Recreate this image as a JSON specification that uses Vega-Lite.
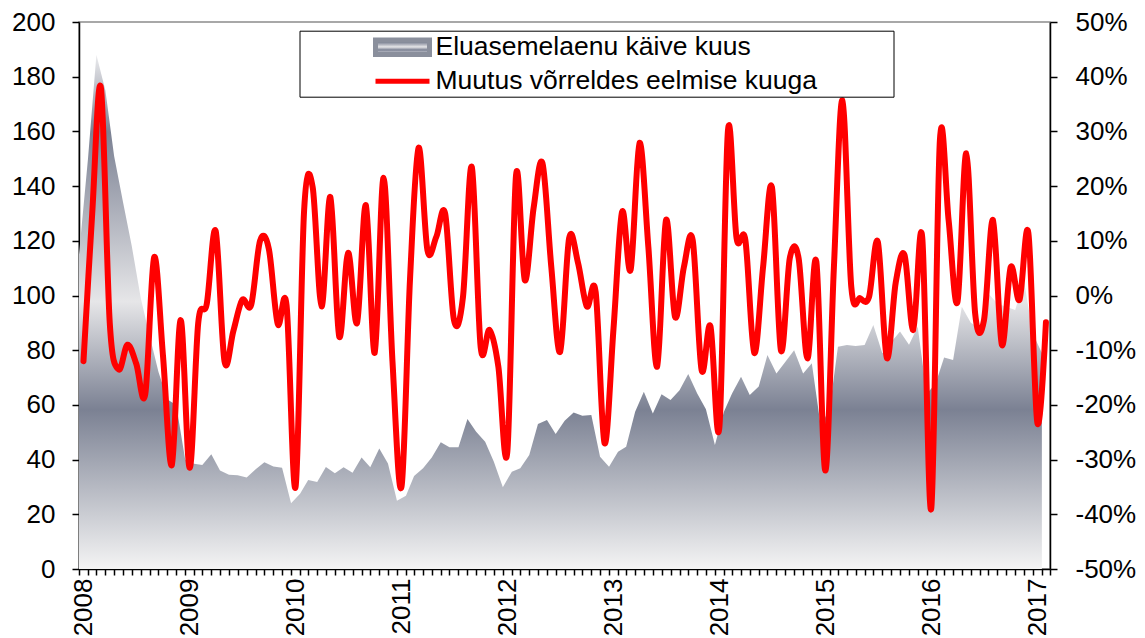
{
  "$schema": "https://vega.github.io/schema/vega-lite/v6.json",
  "width": 971,
  "height": 547,
  "autosize": "none",
  "padding": {"left": 79, "top": 22, "right": 95, "bottom": 69},
  "background": "white",
  "config": {
    "view": {"stroke": "#8c8c8c", "strokeWidth": 1.5},
    "font": "Liberation Sans",
    "axis": {"labelFont": "Liberation Sans", "labelColor": "#000000", "labelFontSize": 26, "domainColor": "#000000", "domainWidth": 1.5, "tickColor": "#000000", "tickWidth": 1.5, "grid": false, "title": null}
  },
  "data": {"values": [
    {"m": "2008-01", "loan": 115, "chg": -12},
    {"m": "2008-02", "loan": 150, "chg": 15},
    {"m": "2008-03", "loan": 188, "chg": 38},
    {"m": "2008-04", "loan": 175, "chg": -5},
    {"m": "2008-05", "loan": 151, "chg": -13.5},
    {"m": "2008-06", "loan": 134, "chg": -9},
    {"m": "2008-07", "loan": 118, "chg": -12.5},
    {"m": "2008-08", "loan": 99, "chg": -18},
    {"m": "2008-09", "loan": 85, "chg": 7},
    {"m": "2008-10", "loan": 72, "chg": -11},
    {"m": "2008-11", "loan": 62, "chg": -31},
    {"m": "2008-12", "loan": 60, "chg": -4.5},
    {"m": "2009-01", "loan": 40, "chg": -31.5},
    {"m": "2009-02", "loan": 38.5, "chg": -5},
    {"m": "2009-03", "loan": 38, "chg": -1.5},
    {"m": "2009-04", "loan": 42, "chg": 11.8},
    {"m": "2009-05", "loan": 36, "chg": -12},
    {"m": "2009-06", "loan": 34.5, "chg": -6.5},
    {"m": "2009-07", "loan": 34.3, "chg": -0.8},
    {"m": "2009-08", "loan": 33.5, "chg": -1.7},
    {"m": "2009-09", "loan": 36.5, "chg": 10},
    {"m": "2009-10", "loan": 39, "chg": 8.5},
    {"m": "2009-11", "loan": 37.5, "chg": -5.2},
    {"m": "2009-12", "loan": 37, "chg": -1.8},
    {"m": "2010-01", "loan": 24, "chg": -35},
    {"m": "2010-02", "loan": 27.5, "chg": 15.6},
    {"m": "2010-03", "loan": 32.5, "chg": 19.8},
    {"m": "2010-04", "loan": 31.8, "chg": -2},
    {"m": "2010-05", "loan": 37.3, "chg": 18},
    {"m": "2010-06", "loan": 35, "chg": -7.5},
    {"m": "2010-07", "loan": 37.2, "chg": 7.8},
    {"m": "2010-08", "loan": 35.2, "chg": -5},
    {"m": "2010-09", "loan": 40.8, "chg": 16.5},
    {"m": "2010-10", "loan": 37.2, "chg": -10.5},
    {"m": "2010-11", "loan": 44.1, "chg": 21.5},
    {"m": "2010-12", "loan": 38.6, "chg": -12},
    {"m": "2011-01", "loan": 25, "chg": -35},
    {"m": "2011-02", "loan": 26.8, "chg": 3},
    {"m": "2011-03", "loan": 34, "chg": 27},
    {"m": "2011-04", "loan": 36.8, "chg": 8.3},
    {"m": "2011-05", "loan": 40.8, "chg": 10.7},
    {"m": "2011-06", "loan": 46.3, "chg": 15},
    {"m": "2011-07", "loan": 44.5, "chg": -4.5},
    {"m": "2011-08", "loan": 44.5, "chg": -0.3},
    {"m": "2011-09", "loan": 54.8, "chg": 23.5},
    {"m": "2011-10", "loan": 50.2, "chg": -9.4},
    {"m": "2011-11", "loan": 46.5, "chg": -6.3},
    {"m": "2011-12", "loan": 39.2, "chg": -13},
    {"m": "2012-01", "loan": 29.9, "chg": -28.5},
    {"m": "2012-02", "loan": 35.6, "chg": 22},
    {"m": "2012-03", "loan": 36.8, "chg": 2.8},
    {"m": "2012-04", "loan": 41.7, "chg": 16},
    {"m": "2012-05", "loan": 53, "chg": 24.2},
    {"m": "2012-06", "loan": 54.5, "chg": 5.2},
    {"m": "2012-07", "loan": 49.4, "chg": -10.3},
    {"m": "2012-08", "loan": 54.2, "chg": 10.5},
    {"m": "2012-09", "loan": 57.2, "chg": 6},
    {"m": "2012-10", "loan": 56, "chg": -2},
    {"m": "2012-11", "loan": 56.3, "chg": 0.6},
    {"m": "2012-12", "loan": 41, "chg": -27},
    {"m": "2013-01", "loan": 37.4, "chg": -6},
    {"m": "2013-02", "loan": 42.9, "chg": 15.3},
    {"m": "2013-03", "loan": 44.7, "chg": 4.7},
    {"m": "2013-04", "loan": 57.5, "chg": 27.9},
    {"m": "2013-05", "loan": 64.8, "chg": 8.9},
    {"m": "2013-06", "loan": 56.9, "chg": -13},
    {"m": "2013-07", "loan": 63.9, "chg": 13.8},
    {"m": "2013-08", "loan": 61.8, "chg": -3.9},
    {"m": "2013-09", "loan": 65.4, "chg": 5.2},
    {"m": "2013-10", "loan": 71.3, "chg": 10.1},
    {"m": "2013-11", "loan": 64.2, "chg": -13.6},
    {"m": "2013-12", "loan": 58.4, "chg": -5.6},
    {"m": "2014-01", "loan": 45.3, "chg": -24},
    {"m": "2014-02", "loan": 57.5, "chg": 30.2},
    {"m": "2014-03", "loan": 64.2, "chg": 10.5},
    {"m": "2014-04", "loan": 70.3, "chg": 10.1},
    {"m": "2014-05", "loan": 63.6, "chg": -10.5},
    {"m": "2014-06", "loan": 66.7, "chg": 5.2},
    {"m": "2014-07", "loan": 78.2, "chg": 19.8},
    {"m": "2014-08", "loan": 71.5, "chg": -10},
    {"m": "2014-09", "loan": 75.8, "chg": 6.8},
    {"m": "2014-10", "loan": 80, "chg": 6.8},
    {"m": "2014-11", "loan": 71.5, "chg": -11.5},
    {"m": "2014-12", "loan": 75.2, "chg": 6.2},
    {"m": "2015-01", "loan": 52, "chg": -32},
    {"m": "2015-02", "loan": 59, "chg": 5},
    {"m": "2015-03", "loan": 81.3, "chg": 35.7},
    {"m": "2015-04", "loan": 81.9, "chg": 1.6},
    {"m": "2015-05", "loan": 81.5, "chg": -0.5},
    {"m": "2015-06", "loan": 81.9, "chg": -0.3},
    {"m": "2015-07", "loan": 89.2, "chg": 9.8},
    {"m": "2015-08", "loan": 78.9, "chg": -11.4},
    {"m": "2015-09", "loan": 83, "chg": 2.3},
    {"m": "2015-10", "loan": 86.8, "chg": 7.4},
    {"m": "2015-11", "loan": 82, "chg": -6.3},
    {"m": "2015-12", "loan": 88.6, "chg": 10.7},
    {"m": "2016-01", "loan": 64, "chg": -39},
    {"m": "2016-02", "loan": 67.9, "chg": 28.4},
    {"m": "2016-03", "loan": 77.3, "chg": 13.8},
    {"m": "2016-04", "loan": 76.4, "chg": -1.2},
    {"m": "2016-05", "loan": 95.9, "chg": 26},
    {"m": "2016-06", "loan": 90, "chg": -3.3},
    {"m": "2016-07", "loan": 88, "chg": -4.5},
    {"m": "2016-08", "loan": 100.6, "chg": 13.8},
    {"m": "2016-09", "loan": 97, "chg": -9},
    {"m": "2016-10", "loan": 95.9, "chg": 5.2},
    {"m": "2016-11", "loan": 94.7, "chg": -0.8},
    {"m": "2016-12", "loan": 105.5, "chg": 11.4},
    {"m": "2017-01", "loan": 86, "chg": -23.3},
    {"m": "2017-02", "loan": 79, "chg": -4.9}
  ]},
  "encoding": {
    "x": {
      "field": "m",
      "timeUnit": "utcyearmonth",
      "type": "temporal",
      "bandPosition": 0.5,
      "scale": {"domain": [{"year": 2008, "month": 1, "date": 1, "utc": true}, {"year": 2017, "month": 3, "date": 1, "utc": true}]},
      "axis": {
        "orient": "bottom",
        "tickCount": {"interval": "month", "step": 1},
        "labelExpr": "utcFormat(datum.value, '%m') == '01' ? utcFormat(datum.value, '%Y') : ''",
        "labelAngle": 270,
        "labelAlign": "right",
        "labelBaseline": "middle",
        "labelOffset": 4.4,
        "labelOverlap": false,
        "labelFlush": false,
        "labelBound": false,
        "tickSize": 6,
        "labelPadding": 3,
        "encode": {"ticks": {"update": {"y": {"value": -6}}}}
      }
    }
  },
  "layer": [
    {
      "mark": {
        "type": "area",
        "interpolate": "linear",
        "color": {
          "gradient": "linear",
          "x1": 0, "y1": 0, "x2": 0, "y2": 1,
          "stops": [
            {"offset": 0, "color": "#ececee"},
            {"offset": 0.15, "color": "#7b8193"},
            {"offset": 0.48, "color": "#e6e6e8"},
            {"offset": 0.69, "color": "#7b8193"},
            {"offset": 1, "color": "#f4f4f4"}
          ]
        }
      },
      "encoding": {
        "y": {
          "field": "loan",
          "type": "quantitative",
          "scale": {"domain": [0, 200], "nice": false, "zero": true},
          "axis": {
            "orient": "left",
            "values": [0, 20, 40, 60, 80, 100, 120, 140, 160, 180, 200],
            "tickSize": 7,
            "labelPadding": 17,
            "encode": {"ticks": {"update": {"x": {"value": 7}}}}
          }
        }
      }
    },
    {
      "mark": {"type": "line", "interpolate": "cardinal", "strokeWidth": 6, "strokeJoin": "round", "strokeCap": "round"},
      "encoding": {
        "y": {
          "field": "chg",
          "type": "quantitative",
          "scale": {"domain": [-50, 50], "nice": false, "zero": false},
          "axis": {
            "orient": "right",
            "values": [-50, -40, -30, -20, -10, 0, 10, 20, 30, 40, 50],
            "labelExpr": "datum.value + '%'",
            "tickSize": 7,
            "labelPadding": 18,
            "encode": {"ticks": {"update": {"x": {"value": -7}}}}
          }
        },
        "color": {
          "datum": "Muutus võrreldes eelmise kuuga",
          "type": "nominal",
          "scale": {"domain": ["Eluasemelaenu käive kuus", "Muutus võrreldes eelmise kuuga"], "range": ["#8a8f9c", "#ff0000"]},
          "legend": {
            "orient": "none",
            "legendX": 220.5,
            "legendY": 8.7,
            "direction": "vertical",
            "title": null,
            "padding": 2,
            "strokeColor": "#000000",
            "fillColor": "#ffffff",
            "labelFont": "Liberation Sans",
            "labelFontSize": 26.5,
            "labelColor": "#000000",
            "labelLimit": 1000,
            "symbolSize": 576,
            "symbolOffset": 86.5,
            "labelOffset": 18.5,
            "rowPadding": 2,
            "symbolStrokeWidth": 5,
            "labelExpr": "datum.label == 'Muutus võrreldes eelmise kuuga' ? datum.label + '\u00a0\u00a0\u00a0\u00a0\u00a0\u00a0\u00a0\u00a0\u00a0\u00a0\u200b' : datum.label",
            "encode": {
              "symbols": {
                "update": {
                  "shape": [{"test": "datum.value == 'Eluasemelaenu käive kuus'", "value": "M-2.25,-0.6H2.25V0.6H-2.25Z"}, {"value": "M-2.25,0H2.25"}],
                  "fill": [{"test": "datum.value == 'Eluasemelaenu käive kuus'", "value": {"gradient": "linear", "x1": 0, "y1": 0, "x2": 0, "y2": 1, "stops": [{"offset": 0, "color": "#ececee"}, {"offset": 0.15, "color": "#7b8193"}, {"offset": 0.48, "color": "#e6e6e8"}, {"offset": 0.69, "color": "#7b8193"}, {"offset": 1, "color": "#f4f4f4"}]}}, {"value": "transparent"}],
                  "stroke": [{"test": "datum.value == 'Eluasemelaenu käive kuus'", "value": "transparent"}, {"value": "#ff0000"}],
                  "strokeWidth": {"value": 5},
                  "opacity": {"value": 1}
                }
              }
            }
          }
        }
      }
    }
  ],
  "resolve": {"scale": {"y": "independent"}}
}
